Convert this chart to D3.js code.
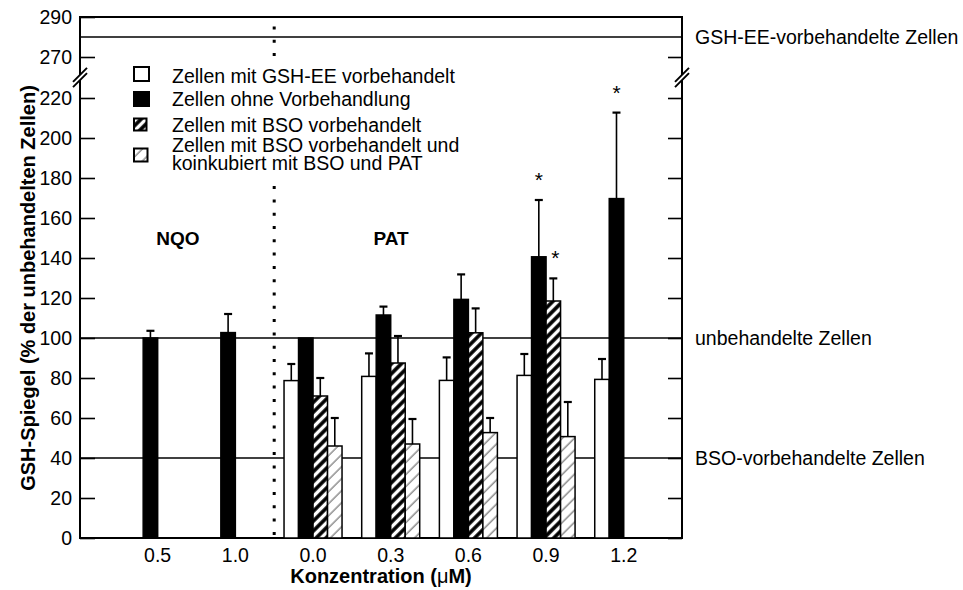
<!DOCTYPE html>
<html>
<head>
<meta charset="utf-8">
<script src="https://cdn.jsdelivr.net/npm/d3@7"></script>
<style>
  body { margin: 0; background: #fff; }
  svg { display: block; font-family: "Liberation Sans", Arial, sans-serif; }
</style>
</head>
<body>
<svg id="chart" width="963" height="590"></svg>
<script>
// DATA
var categories = ['0.5', '1.0', '0.0', '0.3', '0.6', '0.9', '1.2'];
var seriesKeys = ['gshee', 'ohne', 'bso', 'bsopat'];
var seriesLabels = [
  ['Zellen mit GSH-EE vorbehandelt'],
  ['Zellen ohne Vorbehandlung'],
  ['Zellen mit BSO vorbehandelt'],
  ['Zellen mit BSO vorbehandelt und', 'koinkubiert mit BSO und PAT']
];

// mean values (% of untreated cells)
var gsheeValues  = [0, 0, 78.7, 80.8, 78.8, 81.3, 79.3];
var ohneValues   = [100, 102.7, 100, 111.5, 119.3, 140.6, 169.7];
var bsoValues    = [0, 0, 71, 87.5, 102.6, 118.5, 0];
var bsopatValues = [0, 0, 46, 47, 52.7, 50.7, 0];

// upper error (SD)
var gsheeErrors  = [0, 0, 8.3, 11.5, 11.5, 10.7, 10.2];
var ohneErrors   = [3.6, 9.3, 0, 4.2, 12.5, 28.4, 43];
var bsoErrors    = [0, 0, 9, 13.5, 12.2, 11.3, 0];
var bsopatErrors = [0, 0, 14, 12.5, 7.3, 17.3, 0];

// significance marks (category, series)
var stars = [['0.9', 'ohne'], ['0.9', 'bso'], ['1.2', 'ohne']];

var yTicks = [0, 20, 40, 60, 80, 100, 120, 140, 160, 180, 200, 220, 270, 290];
var refLines = [280, 100, 40];
var refLabels = ['GSH-EE-vorbehandelte Zellen', 'unbehandelte Zellen', 'BSO-vorbehandelte Zellen'];

var valuesBySeries = {
  gshee: gsheeValues, ohne: ohneValues, bso: bsoValues, bsopat: bsopatValues
};
var errorsBySeries = {
  gshee: gsheeErrors, ohne: ohneErrors, bso: bsoErrors, bsopat: bsopatErrors
};

// SETUP
var svg = d3.select('#chart');
var plotLeft = 80, plotRight = 682, plotTop = 17, plotBottom = 538;
var fontSize = '19.5px';

// category index -> x (slot 0 is empty, like the original)
var x = d3.scaleLinear().domain([0, 7.75]).range([plotLeft, plotRight]);
var xInner = d3.scaleBand().domain(seriesKeys).range([-29, 29]);

// broken y axis: 0-229 and 261-290 share the same slope
var y = d3.scaleLinear()
  .domain([0, 229, 261, 290])
  .range([plotBottom, 80, 75, plotTop]);

/**
 * Patterns
 */
var defs = svg.append('defs');
var boldHatch = defs.append('pattern')
  .attr('id', 'hatch-bold')
  .attr('patternUnits', 'userSpaceOnUse')
  .attr('width', 7).attr('height', 7)
  .attr('patternTransform', 'rotate(45)');
boldHatch.append('rect').attr('width', 7).attr('height', 7).attr('fill', '#fff');
boldHatch.append('line')
  .attr('x1', 2).attr('x2', 2).attr('y1', 0).attr('y2', 7)
  .attr('stroke', '#000').attr('stroke-width', 3.6);

var lightHatch = defs.append('pattern')
  .attr('id', 'hatch-light')
  .attr('patternUnits', 'userSpaceOnUse')
  .attr('width', 8.5).attr('height', 8.5)
  .attr('patternTransform', 'rotate(45)');
lightHatch.append('rect').attr('width', 8.5).attr('height', 8.5).attr('fill', '#fff');
lightHatch.append('line')
  .attr('x1', 2).attr('x2', 2).attr('y1', 0).attr('y2', 8.5)
  .attr('stroke', '#555').attr('stroke-width', 1);

var fills = {
  gshee: '#fff', ohne: '#000', bso: 'url(#hatch-bold)', bsopat: 'url(#hatch-light)'
};

/**
 * Reference lines + labels
 */
refLines.forEach(function (v, i) {
  svg.append('line')
    .attr('x1', plotLeft).attr('x2', plotRight)
    .attr('y1', y(v)).attr('y2', y(v))
    .attr('stroke', '#000').attr('stroke-width', 1.6);
  svg.append('text')
    .attr('x', plotRight + 13).attr('y', y(v))
    .attr('dy', '0.35em')
    .style('font-size', fontSize)
    .text(refLabels[i]);
});

// dotted separator between NQO and PAT
svg.append('line')
  .attr('x1', x(2.5)).attr('x2', x(2.5))
  .attr('y1', 26.5).attr('y2', plotBottom)
  .attr('stroke', '#000')
  .attr('stroke-width', 3)
  .attr('stroke-dasharray', '3 10.3');

svg.append('text')
  .attr('x', 178).attr('y', 245)
  .attr('text-anchor', 'middle')
  .style('font-size', '19px').style('font-weight', 'bold')
  .text('NQO');
svg.append('text')
  .attr('x', 391).attr('y', 245)
  .attr('text-anchor', 'middle')
  .style('font-size', '19px').style('font-weight', 'bold')
  .text('PAT');

/**
 * Frame + axes (drawn under the bars so zero bars show on the baseline)
 */
svg.append('path')
  .attr('d', 'M' + plotLeft + ',' + plotTop + 'V' + plotBottom + 'H' + plotRight + 'V' + plotTop + 'Z')
  .attr('fill', 'none')
  .attr('stroke', '#000')
  .attr('stroke-width', 2);

var axisLeft = d3.axisLeft(y).tickValues(yTicks).tickSize(-15).tickPadding(8);
var axisRight = d3.axisRight(y).tickValues(yTicks.slice(0, -1)).tickSize(-14).tickFormat('');

var gLeft = svg.append('g').attr('transform', 'translate(' + plotLeft + ',0)').call(axisLeft);
var gRight = svg.append('g').attr('transform', 'translate(' + plotRight + ',0)').call(axisRight);
[gLeft, gRight].forEach(function (g) {
  g.select('.domain').remove();
  g.selectAll('line').attr('stroke', '#000').attr('stroke-width', 1.6);
  g.selectAll('text')
    .attr('fill', '#000')
    .style('font-size', fontSize)
    .style('font-family', '"Liberation Sans", Arial, sans-serif');
});

/**
 * Bars
 */
var barData = [];
categories.forEach(function (c, i) {
  seriesKeys.forEach(function (k) {
    barData.push({
      cat: c, index: i + 1, key: k,
      value: valuesBySeries[k][i],
      err: errorsBySeries[k][i]
    });
  });
});

var barGroup = svg.append('g').attr('class', 'bars');
barGroup.selectAll('rect')
  .data(barData)
  .enter()
  .append('rect')
  .attr('x', function (d) { return x(d.index) + xInner(d.key); })
  .attr('width', xInner.bandwidth())
  .attr('y', function (d) { return y(d.value) - (d.value === 0 ? 0.8 : 0); })
  .attr('height', function (d) { return y(0) - y(d.value); })
  .attr('fill', function (d) { return fills[d.key]; })
  .attr('stroke', '#000')
  .attr('stroke-width', 1.5);

// error bars (upper whisker only)
var errData = barData.filter(function (d) { return d.err > 0; });
var errGroup = svg.append('g').attr('class', 'errors');
errGroup.selectAll('line.stem')
  .data(errData)
  .enter()
  .append('line')
  .attr('class', 'stem')
  .attr('x1', function (d) { return x(d.index) + xInner(d.key) + xInner.bandwidth() / 2; })
  .attr('x2', function (d) { return x(d.index) + xInner(d.key) + xInner.bandwidth() / 2; })
  .attr('y1', function (d) { return y(d.value); })
  .attr('y2', function (d) { return y(d.value + d.err); })
  .attr('stroke', '#000').attr('stroke-width', 1.6);
errGroup.selectAll('line.cap')
  .data(errData)
  .enter()
  .append('line')
  .attr('class', 'cap')
  .attr('x1', function (d) { return x(d.index) + xInner(d.key) + xInner.bandwidth() / 2 - 4; })
  .attr('x2', function (d) { return x(d.index) + xInner(d.key) + xInner.bandwidth() / 2 + 4; })
  .attr('y1', function (d) { return y(d.value + d.err); })
  .attr('y2', function (d) { return y(d.value + d.err); })
  .attr('stroke', '#000').attr('stroke-width', 2.2);

// significance stars
svg.append('g').selectAll('text')
  .data(stars)
  .enter()
  .append('text')
  .attr('x', function (s) {
    return x(categories.indexOf(s[0]) + 1) + xInner(s[1]) + xInner.bandwidth() / 2 + (s[1] === 'bso' ? 2 : 0);
  })
  .attr('y', function (s) {
    var i = categories.indexOf(s[0]);
    return y(valuesBySeries[s[1]][i] + errorsBySeries[s[1]][i]) - 13;
  })
  .attr('text-anchor', 'middle')
  .style('font-size', '21px')
  .text('*');

// axis break marks
var breakY = (y(229) + y(261)) / 2;
[plotLeft, plotRight].forEach(function (bx) {
  svg.append('rect')
    .attr('x', bx - 2).attr('y', breakY - 2.5)
    .attr('width', 4).attr('height', 5)
    .attr('fill', '#fff');
  [-2.6, 2.6].forEach(function (off) {
    svg.append('line')
      .attr('x1', bx - 7).attr('y1', breakY + off + 7)
      .attr('x2', bx + 7).attr('y2', breakY + off - 7)
      .attr('stroke', '#000').attr('stroke-width', 2);
  });
});

// x labels
svg.append('g').selectAll('text')
  .data(categories)
  .enter()
  .append('text')
  .attr('x', function (c, i) { return x(i + 1); })
  .attr('y', 562)
  .attr('text-anchor', 'middle')
  .style('font-size', fontSize)
  .text(function (c) { return c; });

// axis titles
var xTitle = svg.append('text')
  .attr('x', 381).attr('y', 583)
  .attr('text-anchor', 'middle')
  .style('font-size', '20px').style('font-weight', 'bold');
xTitle.append('tspan').text('Konzentration (');
xTitle.append('tspan').style('font-weight', 'normal').text('\u03bc');
xTitle.append('tspan').text('M)');

svg.append('text')
  .attr('transform', 'translate(34.5,' + 288 + ') rotate(-90)')
  .attr('text-anchor', 'middle')
  .style('font-size', '20px').style('font-weight', 'bold')
  .text('GSH-Spiegel (% der unbehandelten Zellen)');

/**
 * Legend (white box hides the dotted separator behind it)
 */
var legendRows = [
  { key: 'gshee', box: [134, 67, 15, 14], base: [82.7] },
  { key: 'ohne', box: [134, 92, 15, 14], base: [106] },
  { key: 'bso', box: [134, 118.5, 12.5, 12], base: [131.7] },
  { key: 'bsopat', box: [134, 148.5, 13.5, 13], base: [151.7, 170] }
];
var legend = svg.append('g').attr('class', 'legend');
legend.append('rect')
  .attr('x', 126).attr('y', 62)
  .attr('width', 340).attr('height', 116)
  .attr('fill', '#fff');
legendRows.forEach(function (r, i) {
  legend.append('rect')
    .attr('x', r.box[0]).attr('y', r.box[1])
    .attr('width', r.box[2]).attr('height', r.box[3])
    .attr('fill', fills[r.key])
    .attr('stroke', '#000').attr('stroke-width', 2);
  seriesLabels[i].forEach(function (line, j) {
    legend.append('text')
      .attr('x', 172).attr('y', r.base[j])
      .style('font-size', fontSize)
      .text(line);
  });
});
</script>
</body>
</html>
